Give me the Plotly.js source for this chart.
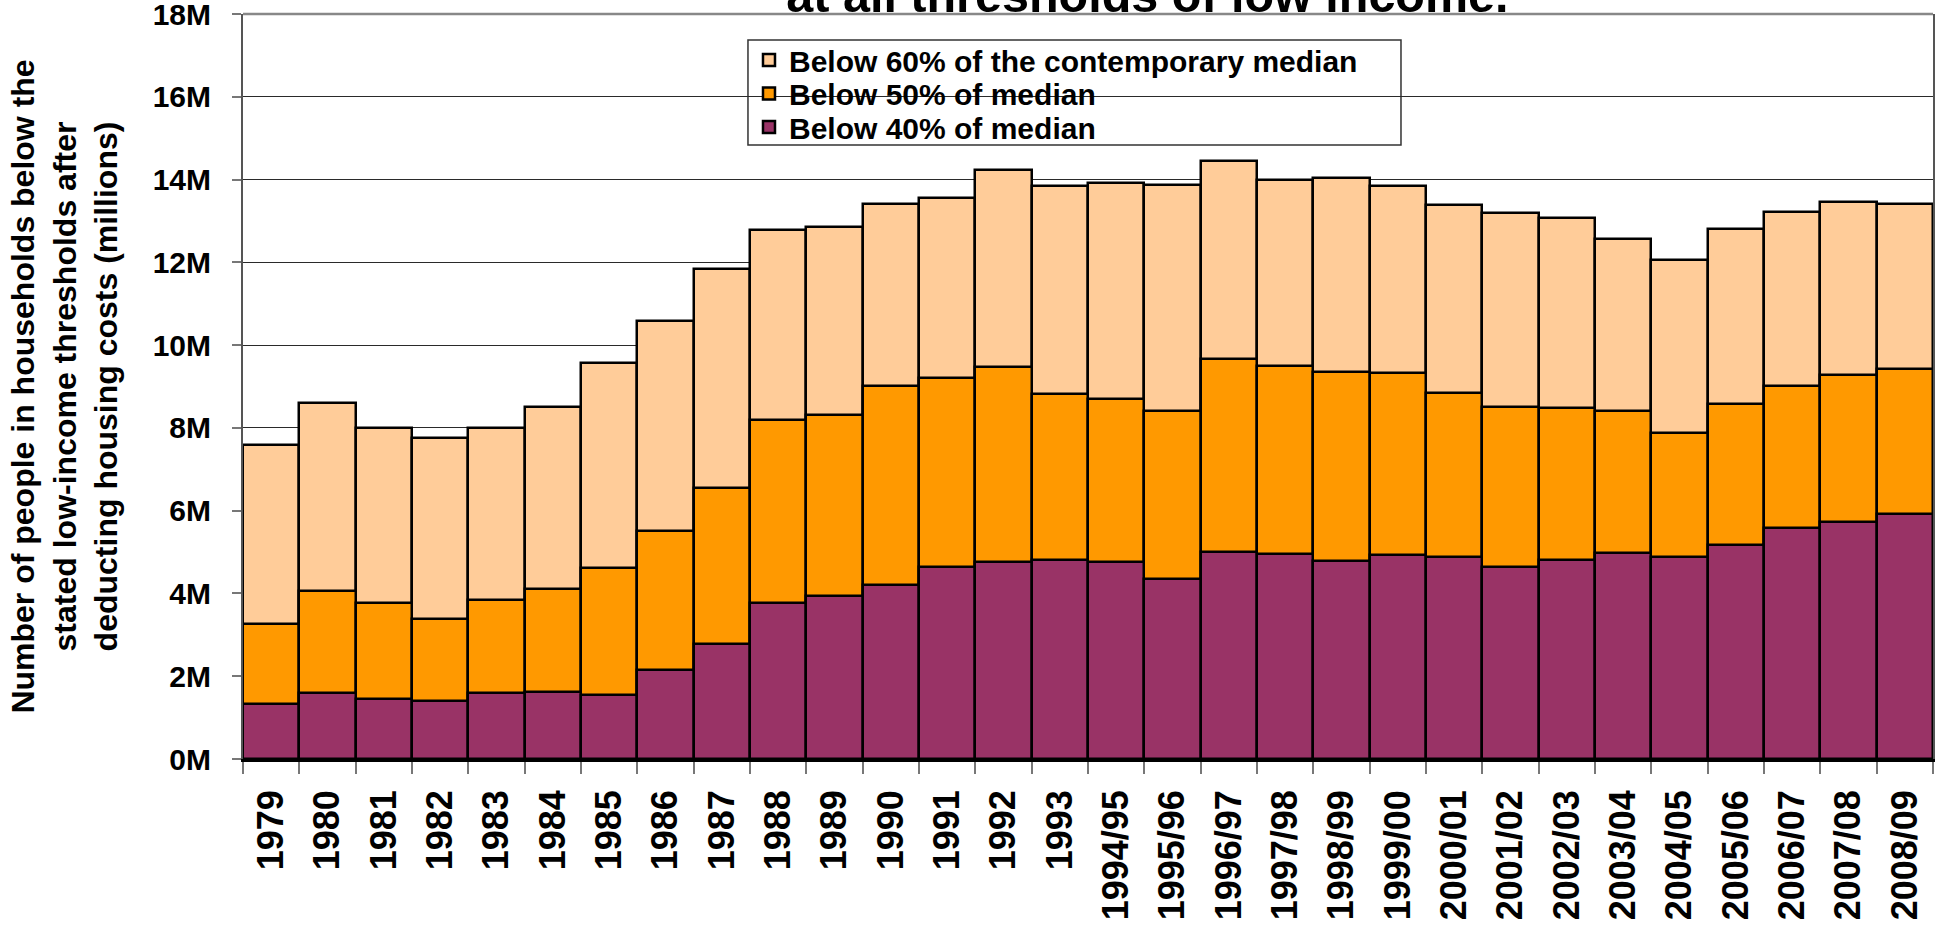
<!DOCTYPE html>
<html>
<head>
<meta charset="utf-8">
<script src="https://cdn.plot.ly/plotly-3.0.1.min.js"></script>
<style>
html,body{margin:0;padding:0;background:#fff;overflow:hidden;}
#chart{width:1935px;height:927px;}
</style>
</head>
<body>
<div id="chart"></div>
<script>
// Categories (years)
const years = ["1979","1980","1981","1982","1983","1984","1985","1986","1987","1988",
  "1989","1990","1991","1992","1993","1994/95","1995/96","1996/97","1997/98","1998/99",
  "1999/00","2000/01","2001/02","2002/03","2003/04","2004/05","2005/06","2006/07","2007/08","2008/09"];

// People (millions) below each threshold, after housing costs
const below60 = [7.58,8.59,7.99,7.76,8.00,8.51,9.57,10.59,11.85,12.78,
  12.86,13.41,13.56,14.22,13.85,13.91,13.86,14.45,13.98,14.03,
  13.84,13.38,13.18,13.08,12.57,12.06,12.81,13.21,13.45,13.41];
const below50 = [3.26,4.05,3.76,3.39,3.84,4.11,4.62,5.51,6.54,8.19,
  8.32,9.02,9.21,9.46,8.81,8.69,8.41,9.66,9.49,9.34,
  9.33,8.85,8.50,8.47,8.41,7.88,8.57,9.02,9.29,9.43];
const below40 = [1.32,1.60,1.44,1.39,1.60,1.61,1.55,2.16,2.79,3.76,
  3.93,4.21,4.63,4.76,4.82,4.76,4.35,5.01,4.95,4.79,
  4.93,4.88,4.63,4.82,4.97,4.87,5.18,5.59,5.72,5.91];

const seriesNames = ["Below 60% of the contemporary median","Below 50% of median","Below 40% of median"];
const seriesColors = ["#FFCC99","#FF9900","#993366"];
const seriesValues = [below60, below50, below40];
const legendIds = ["legend","legend2","legend3"];

// Y axis ticks (millions)
const yTickVals = [0,2,4,6,8,10,12,14,16,18];
const yTickText = yTickVals.map(v => v + "M");

const titleText = "at all thresholds of low income.";
const yTitleText = "Number of people in households below the<br>stated low-income thresholds after<br>deducting housing costs (millions)";

const FONT = "Liberation Sans, Arial, Helvetica, sans-serif";

const traces = seriesValues.map((vals, i) => ({
  type: "bar",
  name: seriesNames[i],
  x: years,
  y: vals,
  legend: legendIds[i],
  marker: {color: seriesColors[i], line: {color: "#000", width: 2.5}},
  hoverinfo: "x+y+name"
}));

function legendAt(yPaper) {
  return {
    x: 0.2994, xanchor: "left",
    y: yPaper, yanchor: "middle",
    bgcolor: "rgba(0,0,0,0)",
    borderwidth: 0,
    font: {family: FONT, size: 30, color: "#000", weight: "bold"}
  };
}

const layout = {
  width: 1935, height: 927,
  margin: {l: 243, r: 2, t: 14, b: 168, pad: 0},
  paper_bgcolor: "#fff",
  plot_bgcolor: "#fff",
  font: {family: FONT, color: "#000", weight: "bold"},
  barmode: "overlay",
  bargap: 0,
  title: {
    text: titleText,
    font: {family: FONT, size: 48.5, color: "#000", weight: "bold"},
    x: 0.593, xanchor: "center",
    y: 0.9871, yanchor: "bottom", yref: "container"
  },
  showlegend: true,
  legend: legendAt(0.9383),
  legend2: legendAt(0.8933),
  legend3: legendAt(0.8483),
  xaxis: {
    type: "category",
    automargin: false,
    showline: true, linecolor: "#000", linewidth: 2.5,
    ticks: "outside", tickson: "boundaries", ticklen: 12, tickwidth: 1.5, tickcolor: "#777",
    tickangle: -90,
    ticklabelstandoff: 14,
    tickfont: {family: FONT, size: 36, color: "#000", weight: "bold"},
    showgrid: false,
    fixedrange: true
  },
  yaxis: {
    range: [0, 18],
    tickmode: "array",
    tickvals: yTickVals,
    ticktext: yTickText,
    automargin: false,
    ticklabeloverflow: "allow",
    showline: true, linecolor: "#555", linewidth: 2, mirror: true,
    ticks: "outside", ticklen: 9, tickwidth: 2, tickcolor: "#777",
    ticklabelstandoff: 15,
    tickfont: {family: FONT, size: 30, color: "#000", weight: "bold"},
    showgrid: true, gridcolor: "#2a2a2a", gridwidth: 1.2,
    zeroline: false,
    title: {
      text: yTitleText,
      font: {family: FONT, size: 32, color: "#000", weight: "bold"},
      standoff: 25
    },
    fixedrange: true
  },
  shapes: [
    {
      type: "line", xref: "paper", yref: "paper", layer: "between",
      x0: 0, x1: 1, y0: 1, y1: 1,
      line: {color: "#888", width: 2.5}
    },
    {
      type: "rect", xref: "paper", yref: "paper", layer: "between",
      x0: 0.2988, x1: 0.6852, y0: 0.8241, y1: 0.965,
      fillcolor: "#fff", line: {color: "#333", width: 1.5}
    }
  ]
};

Plotly.newPlot("chart", traces, layout, {displayModeBar: false, responsive: false});
</script>
</body>
</html>
